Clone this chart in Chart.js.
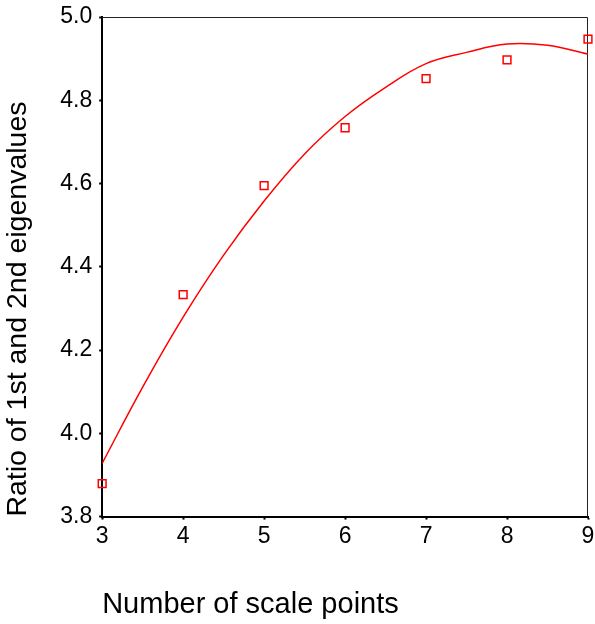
<!DOCTYPE html>
<html>
<head>
<meta charset="utf-8">
<script src="https://cdn.jsdelivr.net/npm/chart.js@4"></script>
<style>
  html, body { margin: 0; padding: 0; background: #fff; }
  #wrap { width: 595px; height: 624px; }
</style>
</head>
<body>
<div id="wrap"><canvas id="chart" width="595" height="624"></canvas></div>
<script>
// observed values
const scalePoints = [3, 4, 5, 6, 7, 8, 9];
const ratios = [3.879, 4.333, 4.595, 4.734, 4.852, 4.897, 4.947];

// fitted curve
const fitX = [3, 3.5, 4, 4.5, 5, 5.5, 6, 6.5, 7, 7.5, 8, 8.5, 9];
const fitY = [3.928, 4.111, 4.279, 4.428, 4.558, 4.671, 4.761, 4.831, 4.888, 4.915, 4.935, 4.932, 4.911];

const xTicks = [3, 4, 5, 6, 7, 8, 9];
const yTicks = [3.8, 4.0, 4.2, 4.4, 4.6, 4.8, 5.0];

const FONT = "'Liberation Sans', Arial, sans-serif";

// thin frame on top and right of the plot
const frame = {
  id: "frame",
  beforeDatasetsDraw(chart) {
    const { ctx, chartArea: a } = chart;
    ctx.save();
    ctx.strokeStyle = "#222";
    ctx.lineWidth = 1;
    ctx.beginPath();
    ctx.moveTo(a.left, a.top + 0.5);
    ctx.lineTo(a.right - 0.5, a.top + 0.5);
    ctx.lineTo(a.right - 0.5, a.bottom);
    ctx.stroke();
    ctx.restore();
  },
};

new Chart(document.getElementById("chart").getContext("2d"), {
  type: "scatter",
  data: {
    datasets: [
      {
        label: "Fit",
        data: fitX.map((x, i) => ({ x, y: fitY[i] })),
        showLine: true,
        borderColor: "#ff0000",
        borderWidth: 1.5,
        pointRadius: 0,
        tension: 0.4,
        fill: false,
      },
      {
        label: "Observed",
        data: scalePoints.map((x, i) => ({ x, y: ratios[i] })),
        pointStyle: "rect",
        pointRadius: 5.5,
        borderColor: "#ff0000",
        borderWidth: 1.5,
        backgroundColor: "rgba(0,0,0,0)",
        clip: false,
      },
    ],
  },
  options: {
    responsive: false,
    animation: false,
    layout: { padding: { top: 17, right: 0, left: 1, bottom: 2 } },
    plugins: { legend: { display: false }, tooltip: { enabled: false } },
    scales: {
      x: {
        type: "linear",
        min: 3,
        max: 9,
        afterBuildTicks: (s) => { s.ticks = xTicks.map((v) => ({ value: v })); },
        afterFit: (s) => { s.paddingRight = 7; },
        border: { color: "#000", width: 2 },
        grid: { drawOnChartArea: false, color: "#000", tickLength: 3, tickWidth: 2 },
        ticks: { color: "#000", font: { family: FONT, size: 23 }, padding: 3, maxRotation: 0 },
        title: {
          display: true,
          text: "Number of scale points",
          align: "start",
          color: "#000",
          font: { family: FONT, size: 29 },
          padding: { top: 34, bottom: 0 },
        },
      },
      y: {
        min: 3.8,
        max: 5.0,
        afterBuildTicks: (s) => { s.ticks = yTicks.map((v) => ({ value: v })); },
        afterFit: (s) => { s.paddingTop = 0; s.paddingBottom = 0; },
        border: { color: "#000", width: 2 },
        grid: { drawOnChartArea: false, color: "#000", tickLength: 3, tickWidth: 2 },
        ticks: {
          color: "#000",
          font: { family: FONT, size: 23 },
          padding: 7,
          callback: (v) => v.toFixed(1),
        },
        title: {
          display: true,
          text: "Ratio of 1st and 2nd eigenvalues",
          align: "start",
          color: "#000",
          font: { family: FONT, size: 28.5 },
          padding: { top: 0, bottom: 18 },
        },
      },
    },
  },
  plugins: [frame],
});
</script>
</body>
</html>
